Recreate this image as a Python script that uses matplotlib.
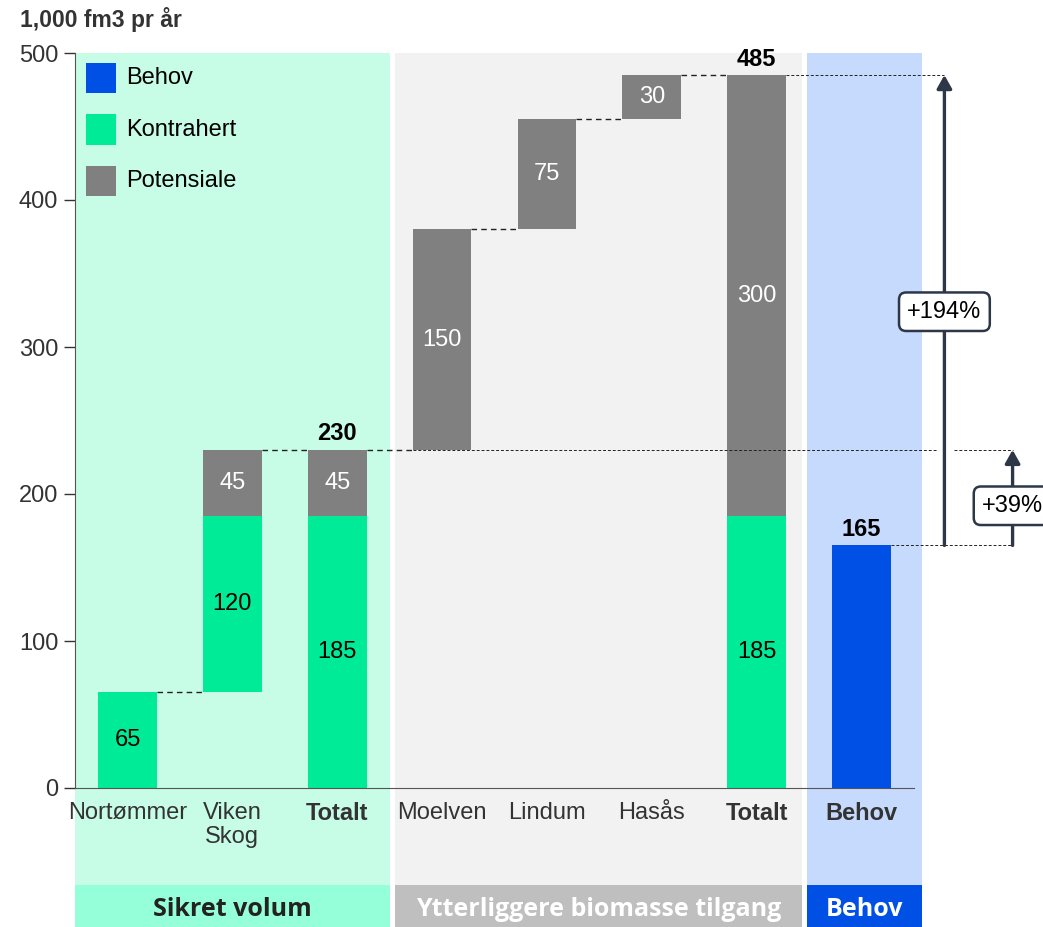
import matplotlib
matplotlib.use("Agg")
import matplotlib.pyplot as plt
import matplotlib.transforms as mtransforms
from matplotlib.patches import Rectangle

plt.rcParams['font.family'] = ['Liberation Sans', 'DejaVu Sans']

# Data
categories = ['Nortømmer', 'Viken\nSkog', 'Totalt', 'Moelven', 'Lindum', 'Hasås', 'Totalt', 'Behov']
kontrahert = [65, 120, 185, 0, 0, 0, 185, 0]
kontrahert_base = [0, 65, 0, 0, 0, 0, 0, 0]
potensiale = [0, 45, 45, 150, 75, 30, 300, 0]
potensiale_base = [0, 185, 185, 230, 380, 455, 185, 0]
behov = [0, 0, 0, 0, 0, 0, 0, 165]
totals = {2: 230, 6: 485, 7: 165}
bold_cats = [2, 6, 7]
legend_labels = ['Behov', 'Kontrahert', 'Potensiale']
groups = ['Sikret volum', 'Ytterliggere biomasse tilgang', 'Behov']
group_span = [(-0.5, 2.5), (2.55, 6.43), (6.48, 7.58)]

c_green = '#00EB97'
c_grey = '#808080'
c_blue = '#0050E6'
bg_colors = ['#C7FCE7', '#F2F2F2', '#C6DAFD']
strip_colors = ['#94FFD8', '#BFBFBF', '#0050E6']
strip_text = ['#222222', 'white', 'white']
dark = '#2D3748'
fs = 17

fig = plt.figure(figsize=(10.43, 9.27), dpi=100)
ax = fig.add_axes([75/1043, 1-788/927, 839/1043, 735/927])
ax.patch.set_visible(False)
x = list(range(len(categories)))
w = 0.56

# background bands and bottom strips
blend = mtransforms.blended_transform_factory(ax.transData, fig.transFigure)
for (a, b), bg, sc, tc, g in zip(group_span, bg_colors, strip_colors, strip_text, groups):
    ax.add_patch(Rectangle((a, 1-885/927), b-a, 885/927-53/927, transform=blend,
                           facecolor=bg, edgecolor='none', zorder=0, clip_on=False))
    ax.add_patch(Rectangle((a, 0), b-a, 1-885/927, transform=blend,
                           facecolor=sc, edgecolor='none', zorder=0, clip_on=False))
    ax.text((a+b)/2, 1-910/927, g, transform=blend, ha='center', va='center',
            fontsize=18, fontweight='bold', color=tc, family=['Open Sans', 'DejaVu Sans'])

# bars
for i in x:
    if kontrahert[i]:
        ax.bar(i, kontrahert[i], w, bottom=kontrahert_base[i], color=c_green, zorder=2)
        ax.text(i, kontrahert_base[i] + kontrahert[i]/2, str(kontrahert[i]),
                ha='center', va='center', fontsize=fs, color='black', zorder=3)
    if potensiale[i]:
        ax.bar(i, potensiale[i], w, bottom=potensiale_base[i], color=c_grey, zorder=2)
        ax.text(i, potensiale_base[i] + potensiale[i]/2, str(potensiale[i]),
                ha='center', va='center', fontsize=fs, color='white', zorder=3)
    if behov[i]:
        ax.bar(i, behov[i], w, color=c_blue, zorder=2)
for i, t in totals.items():
    ax.text(i, t + 3, str(t), ha='center', va='bottom', fontsize=fs,
            fontweight='bold', color='black', zorder=3)

# connectors
def dash(x0, x1, y, lw=1.0, style=(0, (4, 3)), z=1):
    ax.plot([x0, x1], [y, y], color='#222222', lw=lw, linestyle=style, zorder=z, clip_on=False)

dash(0 + w/2, 1 - w/2, 65)
dash(1 + w/2, 2 - w/2, 230)
dash(2 + w/2, 3 - w/2, 230)
dash(3 + w/2, 4 - w/2, 380)
dash(4 + w/2, 5 - w/2, 455)
dash(5 + w/2, 6 - w/2, 485)
dash(6 + w/2, 7.79, 485, lw=0.7, style=(0, (3, 2)))
dash(3 - w/2, 7.72, 230, lw=0.7, style=(0, (3, 2)), z=3)
dash(7.88, 8.44, 230, lw=0.7, style=(0, (3, 2)))
dash(7 + w/2, 8.44, 165, lw=0.7, style=(0, (3, 2)))

# arrows
for xa, y0, y1, lab, ylab in [(7.79, 165, 485, '+194%', 324), (8.44, 165, 230, '+39%', 192)]:
    ax.annotate('', xy=(xa, y1), xytext=(xa, y0), annotation_clip=False,
                arrowprops=dict(arrowstyle='-|>,head_width=0.45,head_length=0.8',
                                color=dark, lw=2.4, shrinkA=0, shrinkB=0))
    ax.text(xa, ylab, lab, ha='center', va='center', fontsize=fs, color='black', zorder=5,
            clip_on=False,
            bbox=dict(boxstyle='round,pad=0.35,rounding_size=0.3', facecolor='white',
                      edgecolor=dark, lw=1.8))

# legend drawn by hand
for k, (lab, col) in enumerate(zip(legend_labels, [c_blue, c_green, c_grey])):
    yc = (788 - (78 + 51.5*k)) / 735
    ax.add_patch(Rectangle((11/839, yc - 15/735), 30/839, 30/735, transform=ax.transAxes,
                           facecolor=col, edgecolor='none', zorder=3))
    ax.text(51/839, yc, lab, transform=ax.transAxes, va='center', ha='left',
            fontsize=fs, color='black', zorder=3)

# axes
ax.set_xlim(-0.5, 7.5)
ax.set_ylim(0, 500)
ax.set_yticks([0, 100, 200, 300, 400, 500])
ax.set_xticks(x)
ax.set_xticklabels(categories, linespacing=1.15)
for i, lbl in enumerate(ax.get_xticklabels()):
    if i in bold_cats:
        lbl.set_fontweight('bold')
ax.tick_params(axis='x', length=0, pad=10, labelsize=fs, colors='#333333')
ax.tick_params(axis='y', length=8, width=1, pad=4, labelsize=fs, colors='#333333')
for s in ['top', 'right']:
    ax.spines[s].set_visible(False)
ax.spines['left'].set_color('#555555')
ax.spines['bottom'].set_color('#555555')
ax.spines['bottom'].set_zorder(4)

fig.text(20/1043, 1-20/927, '1,000 fm3 pr år', ha='left', va='center',
         fontsize=16.5, fontweight='bold', color='#333333')

fig.savefig('out.png', dpi=100)
